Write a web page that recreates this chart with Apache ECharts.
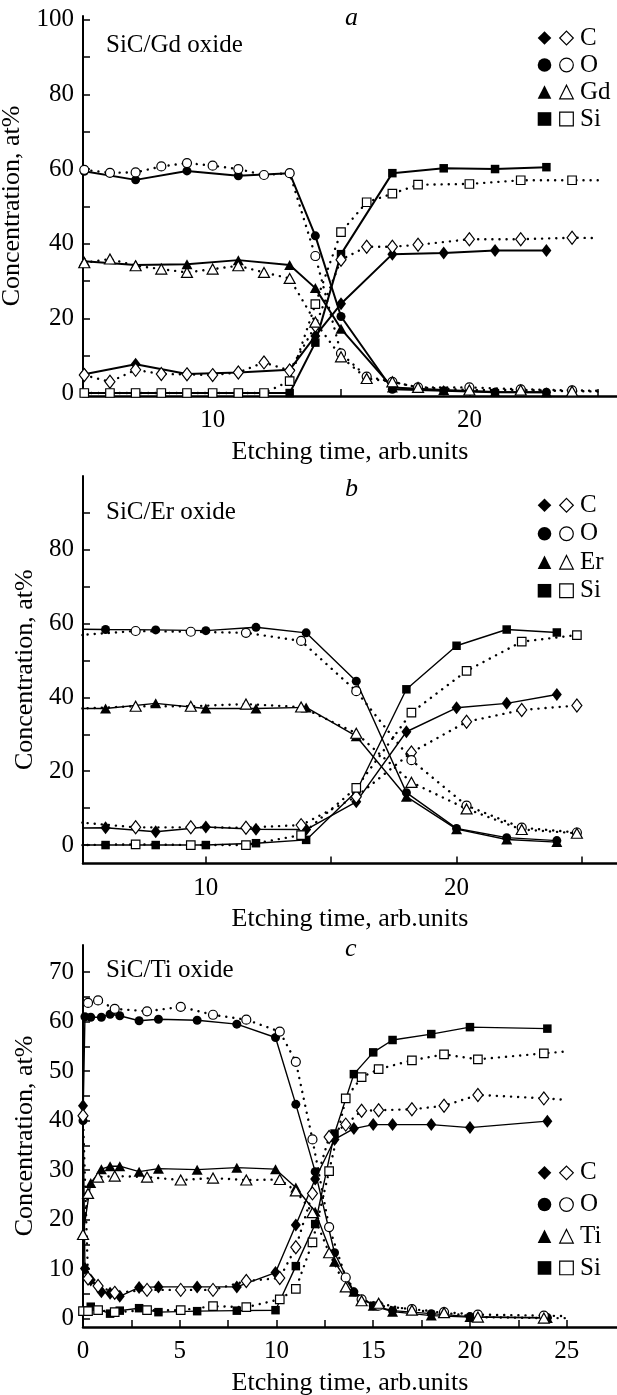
<!DOCTYPE html>
<html lang="en">
<head>
<meta charset="UTF-8">
<title>XPS depth profiles of SiC / oxide layers</title>
<style>
  html, body { margin: 0; padding: 0; background: #fff; }
  #chart { width: 617px; height: 1395px; }
</style>
</head>
<body>
<div id="chart"></div>
<script src="https://cdn.jsdelivr.net/npm/echarts@6/dist/echarts.min.js"></script>
<script>
// ---- panel a: SiC/Gd oxide (filled = solid line, open = dotted line) ----
const aFilledX = [5, 7, 9, 11, 13, 14, 15, 17, 19, 21, 23];
const aC_f  = [5.0, 7.7, 5.1, 5.5, 6.2, 15.3, 23.9, 37.2, 37.5, 38.2, 38.2];
const aO_f  = [59.4, 57.1, 59.5, 58.2, 58.9, 42.1, 20.5, 1.0, 0.6, 0.2, 0.2];
const aGd_f = [35.3, 34.3, 34.5, 35.6, 34.3, 28.1, 17.2, 1.5, 0.8, 0.3, 0.2];
const aSi_f = [0, 0, 0, 0, 0, 13.5, 37.2, 58.9, 60.2, 60.0, 60.5];

const aOpenX = [5, 6, 7, 8, 9, 10, 11, 12, 13, 14, 15, 16, 17, 18, 20, 22, 24, 25];
const aC_o  = [4.8, 3.0, 6.2, 5.1, 5.0, 4.8, 5.5, 8.2, 6.0, 18, 35.7, 39.2, 39.2, 39.7, 41.2, 41.2, 41.6, 41.5];
const aO_o  = [59.8, 59.0, 59.1, 60.7, 61.6, 60.9, 60.0, 58.4, 58.9, 36.7, 10.6, 4.4, 3.0, 1.5, 1.5, 1.0, 0.7, 0.6];
const aGd_o = [34.9, 35.9, 34.1, 33.2, 32.3, 33.2, 34.1, 32.3, 30.7, 19.0, 9.7, 3.9, 3.0, 1.5, 0.8, 0.8, 0.5, 0.4];
const aSi_o = [0, 0, 0, 0, 0, 0, 0, 0, 3.2, 23.8, 43.1, 51.1, 53.4, 55.8, 56.0, 57.0, 57.0, 57.0];

// ---- panel b: SiC/Er oxide ----
const bFilledX = [4, 6, 8, 10, 12, 14, 16, 18, 20, 22, 24];
const bC_f  = [4.5, 4.7, 3.6, 4.9, 4.3, 4.2, 11.7, 30.7, 37.2, 38.4, 40.8];
const bO_f  = [58.6, 58.4, 58.3, 58.1, 59.0, 57.5, 44.4, 14.2, 4.5, 2.0, 1.2];
const bEr_f = [37.0, 37.0, 38.4, 37.0, 37.0, 37.3, 29.5, 13.1, 4.3, 1.5, 0.8];
const bSi_f = [0, 0, 0, 0, 0.5, 1.4, 14.5, 42.2, 54.0, 58.4, 57.6];

const bOpenX = [5, 7.2, 9.4, 11.6, 13.8, 16, 18.2, 20.4, 22.6, 24.8];
const bC_o  = [6.1, 4.8, 4.8, 4.7, 5.4, 13.1, 25.1, 33.4, 36.6, 37.8];
const bO_o  = [56.9, 58.0, 57.8, 57.5, 55.3, 41.7, 23.0, 10.7, 4.7, 3.4];
const bEr_o = [37.0, 37.6, 37.6, 38.2, 37.4, 30.3, 17.0, 9.8, 4.2, 3.2];
const bSi_o = [0, 0.2, 0, 0, 2.7, 15.5, 35.9, 47.2, 55.1, 56.9];

// ---- panel c: SiC/Ti oxide ----
const cFilledX = [0, 0.1, 0.4, 0.95, 1.4, 1.9, 2.9, 3.9, 5.9, 7.95, 9.95, 11, 12, 13, 14, 15, 16, 18, 20, 24];
const cC_f  = [43, 10.1, 7.8, 5.4, 5.1, 4.5, 6.3, 6.4, 6.4, 6.4, 9.3, 18.9, 28.2, 36.2, 38.4, 39.2, 39.2, 39.2, 38.6, 39.9];
const cO_f  = [40, 61.0, 60.9, 60.9, 61.5, 61.2, 60.2, 60.5, 60.3, 59.5, 56.8, 43.3, 29.7, 13.3, 5.4, 2.6, 1.6, 1.0, 0.4, 0.2];
const cTi_f = [17, null, 27.4, 30.2, 30.8, 30.8, 29.7, 30.3, 30.1, 30.5, 30.2, 26.5, 21.6, 11.5, 5.4, 2.6, 1.4, 0.6, 0.3, 0.1];
const cSi_f = [1.5, null, 2.4, null, 1.0, 1.6, 2.1, 1.3, 1.5, 1.6, 1.7, 10.6, 19.1, 37.4, 49.4, 53.8, 56.3, 57.5, 58.9, 58.6];

const cOpenX = [0, 0.26, 0.78, 1.64, 3.31, 5.05, 6.72, 8.44, 10.17, 11.0, 11.86, 12.72, 13.58, 14.4, 15.28, 17.0, 18.66, 20.41, 23.82, 25];
const cC_o  = [41, 8.1, 6.6, 5.2, 5.8, 5.8, 5.8, 7.6, 8.2, 14.4, 25.3, 36.7, 39.2, 42.0, 42.1, 42.3, 43.0, 45.2, 44.5, 44.2];
const cO_o  = [null, 63.8, 64.3, 62.6, 62.1, 63.0, 61.4, 60.4, 58.0, 51.9, 36.2, 18.5, 8.3, 3.9, 2.6, 1.9, 1.3, 0.8, 0.6, 0.5];
const cTi_o = [17, 25.3, 28.6, 28.8, 28.6, 28.0, 28.4, 28.0, 28.1, 25.8, 21.4, 13.3, 6.4, 3.6, 3.1, 1.7, 1.2, 0.3, 0.1, 0.1];
const cSi_o = [1.5, 1.5, 1.7, 1.3, 1.7, 1.7, 2.5, 2.3, 3.9, 6.0, 15.4, 29.8, 44.5, 48.8, 50.4, 52.2, 53.4, 52.4, 53.6, 54.0];

// axis ticks / labels
const aXTicks = [10, 15, 20, 25], aXLabels = [10, 20];
const aYTicks = [0, 10, 20, 30, 40, 50, 60, 70, 80, 90, 100], aYLabels = [0, 20, 40, 60, 80, 100];
const bXTicks = [10, 15, 20, 25], bXLabels = [10, 20];
const bYTicks = [0, 10, 20, 30, 40, 50, 60, 70, 80, 90], bYLabels = [0, 20, 40, 60, 80];
const cXTicks = [0, 2.5, 5, 7.5, 10, 12.5, 15, 17.5, 20, 22.5, 25], cXLabels = [0, 5, 10, 15, 20, 25];
const cYTicks = [0, 5, 10, 15, 20, 25, 30, 35, 40, 45, 50, 55, 60, 65, 70], cYLabels = [0, 10, 20, 30, 40, 50, 60, 70];

const FONT = "'Liberation Serif', 'Times New Roman', serif";
const ELS = ['C', 'O', 'M', 'Si'];
const SYMBOL = { C: 'diamond', O: 'circle', M: 'triangle', Si: 'rect' };
const SIZE = { C: [10, 13], O: 9, M: [11, 10], Si: 8.5 };

const panels = [
  {
    id: 'a', caption: 'SiC/Gd oxide', metal: 'Gd',
    grid: { left: 83, top: 16, width: 534, height: 380 },
    xr: [4.95, 25.75], yr: [-0.8, 101],
    xt: aXTicks, xl: aXLabels, yt: aYTicks, yl: aYLabels,
    fx: aFilledX, f: { C: aC_f, O: aO_f, M: aGd_f, Si: aSi_f },
    ox: aOpenX, o: { C: aC_o, O: aO_o, M: aGd_o, Si: aSi_o },
    tail: true, solid: 2, letterTop: 0, captionTop: 28, legendTop: 19.5, legendRow: 27
  },
  {
    id: 'b', caption: 'SiC/Er oxide', metal: 'Er',
    grid: { left: 83, top: 476, width: 534, height: 387.5 },
    xr: [5.1, 26.4], yr: [-5, 100],
    xt: bXTicks, xl: bXLabels, yt: bYTicks, yl: bYLabels,
    fx: bFilledX, f: { C: bC_f, O: bO_f, M: bEr_f, Si: bSi_f },
    ox: bOpenX, o: { C: bC_o, O: bO_o, M: bEr_o, Si: bSi_o },
    tail: false, solid: 1.4, letterTop: 471, captionTop: 495, legendTop: 486, legendRow: 28.5
  },
  {
    id: 'c', caption: 'SiC/Ti oxide', metal: 'Ti',
    grid: { left: 83, top: 945, width: 534, height: 382 },
    xr: [0, 27.6], yr: [-1.7, 75.5],
    xt: cXTicks, xl: cXLabels, yt: cYTicks, yl: cYLabels,
    fx: cFilledX, f: { C: cC_f, O: cO_f, M: cTi_f, Si: cSi_f },
    ox: cOpenX, o: { C: cC_o, O: cO_o, M: cTi_o, Si: cSi_o },
    tail: true, solid: 1.4, letterTop: 931, captionTop: 953, legendTop: 1152, legendRow: 31.7
  }
];

function points(xs, ys, tail) {
  return xs.map((x, i) => {
    if (ys[i] == null) return null;
    const p = [x, ys[i]];
    return (tail && i === xs.length - 1) ? { value: p, symbol: 'none' } : p;
  }).filter(Boolean);
}

const labelText = { fontFamily: FONT, fontSize: 25, color: '#000' };

const grid = panels.map(p => Object.assign({ outerBoundsMode: 'none' }, p.grid));

const xAxis = panels.map((p, k) => ({
  type: 'value', gridIndex: k, min: p.xr[0], max: p.xr[1],
  name: 'Etching time, arb.units', nameLocation: 'middle', nameGap: 43,
  nameTextStyle: { fontFamily: FONT, fontSize: 26, color: '#000' },
  axisLine: { onZero: false, lineStyle: { color: '#000', width: 2.5 } },
  axisTick: { inside: true, length: 7, customValues: p.xt, lineStyle: { color: '#000', width: 1.5 } },
  axisLabel: Object.assign({ customValues: p.xl, margin: 12 }, labelText),
  splitLine: { show: false }
}));

const yAxis = panels.map((p, k) => ({
  type: 'value', gridIndex: k, min: p.yr[0], max: p.yr[1],
  name: 'Concentration, at%', nameLocation: 'middle', nameGap: 39,
  nameTextStyle: { fontFamily: FONT, fontSize: 26, color: '#000' },
  axisLine: { show: true, onZero: false, lineStyle: { color: '#000', width: 2 } },
  axisTick: { show: true, inside: true, length: 7, customValues: p.yt, lineStyle: { color: '#000', width: 1.5 } },
  axisLabel: Object.assign({ customValues: p.yl, margin: 9 }, labelText),
  splitLine: { show: false }
}));

const series = [];
panels.forEach((p, k) => {
  ELS.forEach(el => {
    series.push({
      type: 'line', name: p.id + el + 'o', xAxisIndex: k, yAxisIndex: k,
      data: points(p.ox, p.o[el], p.tail),
      symbol: SYMBOL[el], symbolSize: SIZE[el], z: 3,
      itemStyle: { color: '#fff', borderColor: '#000', borderWidth: 1.2 },
      lineStyle: { color: '#000', width: 2.4, type: [0.1, 7], cap: 'round' },
      emphasis: { disabled: true }
    });
    series.push({
      type: 'line', name: p.id + el + 'f', xAxisIndex: k, yAxisIndex: k,
      data: points(p.fx, p.f[el], false),
      symbol: SYMBOL[el], symbolSize: SIZE[el], z: 2,
      itemStyle: { color: '#000', borderWidth: 0 },
      lineStyle: { color: '#000', width: p.solid },
      emphasis: { disabled: true }
    });
  });
});

const legendText = (p) => ({ fontFamily: FONT, fontSize: 25, color: '#000', lineHeight: p.legendRow });
const legend = [];
panels.forEach(p => {
  legend.push({
    orient: 'vertical', left: 531, top: p.legendTop, itemWidth: 17, itemHeight: 17, itemGap: 0,
    selectedMode: false, lineStyle: { opacity: 0, width: 0 },
    data: ELS.map(el => ({ name: p.id + el + 'f', itemStyle: { color: '#000', borderWidth: 0 } })),
    formatter: () => ' ', textStyle: legendText(p)
  });
  legend.push({
    orient: 'vertical', left: 553, top: p.legendTop, itemWidth: 17, itemHeight: 17, itemGap: 0,
    selectedMode: false, lineStyle: { opacity: 0, width: 0 },
    data: ELS.map(el => ({ name: p.id + el + 'o', itemStyle: { color: '#fff', borderColor: '#000', borderWidth: 1.2 } })),
    formatter: name => { const el = name.slice(1, -1); return el === 'M' ? p.metal : el; },
    textStyle: legendText(p)
  });
});

const title = [];
panels.forEach(p => {
  title.push({ text: p.id, left: 340, top: p.letterTop,
    textStyle: { fontFamily: FONT, fontStyle: 'italic', fontWeight: 'normal', fontSize: 26, color: '#000' } });
  title.push({ text: p.caption, left: 101, top: p.captionTop,
    textStyle: { fontFamily: FONT, fontWeight: 'normal', fontSize: 25, color: '#000' } });
});

const chart = echarts.init(document.getElementById('chart'));
chart.setOption({
  animation: false,
  backgroundColor: '#fff',
  title, legend, grid, xAxis, yAxis, series
});
</script>
</body>
</html>
